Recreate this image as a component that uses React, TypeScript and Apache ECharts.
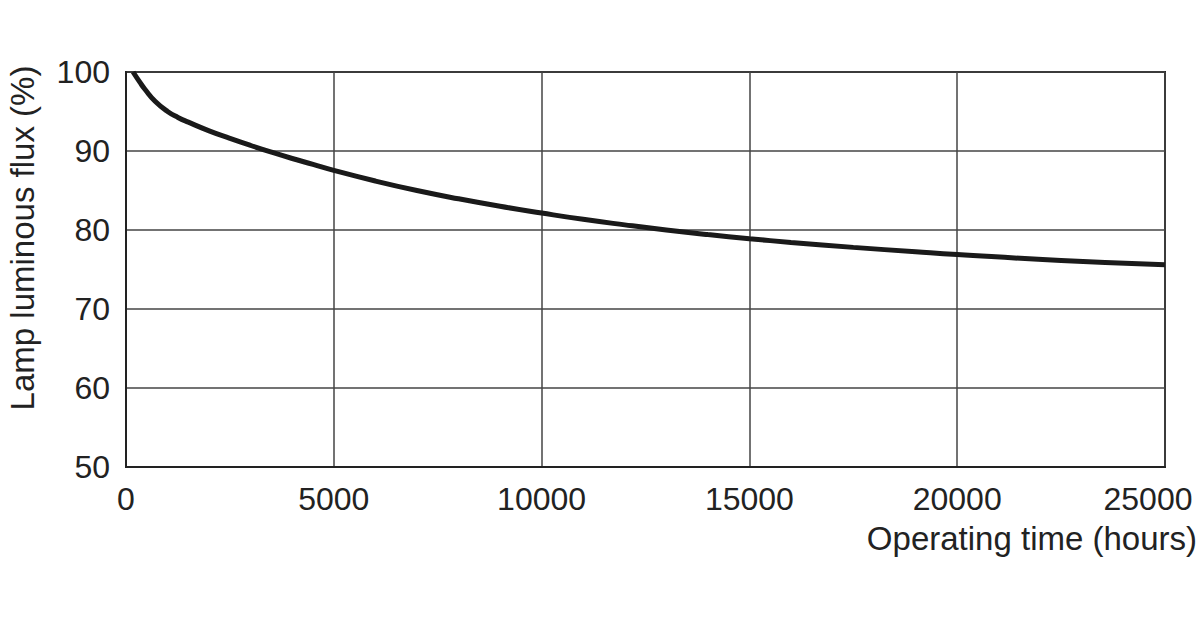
import React, { useEffect, useRef } from "react";
import * as echarts from "echarts";

const hours = [170, 340, 450, 700, 1000, 1250, 1500, 2000, 2500, 3000, 3500, 4000, 4500, 5000, 6000, 7000, 8000, 9000, 10000, 11000, 12000, 13000, 14000, 15000, 16000, 17500, 19000, 20000, 22500, 25000];
const flux = [100, 98.65, 97.85, 96.3, 95.0, 94.25, 93.65, 92.55, 91.6, 90.7, 89.85, 89.05, 88.3, 87.55, 86.2, 85.0, 83.95, 83.0, 82.15, 81.35, 80.65, 80.0, 79.42, 78.9, 78.43, 77.8, 77.25, 76.9, 76.15, 75.6];
const xTicks = [0, 5000, 10000, 15000, 20000, 25000];
const yTicks = [50, 60, 70, 80, 90, 100];
const xTitle = "Operating time (hours)";
const yTitle = "Lamp luminous flux (%)";

const FONT = "'Liberation Sans', Arial, sans-serif";

export default function App() {
  const ref = useRef<HTMLDivElement>(null);
  useEffect(() => {
    const chart = echarts.init(ref.current!, null, { renderer: "svg" });
    chart.setOption({
      animation: false,
      backgroundColor: "#ffffff",
      grid: {
        left: 126,
        right: 35,
        top: 72,
        bottom: 163,
        show: true,
        borderColor: "#222",
        borderWidth: 2,
      },
      xAxis: {
        type: "value",
        min: xTicks[0],
        max: xTicks[xTicks.length - 1],
        interval: 5000,
        axisLine: { show: true, lineStyle: { color: "#222", width: 2 } },
        axisTick: { show: false },
        splitLine: { show: true, lineStyle: { color: "#444", width: 1.5 } },
        axisLabel: {
          margin: 16,
          color: "#222",
          fontFamily: FONT,
          fontSize: 32,
          formatter: (v: number) => (v === xTicks[xTicks.length - 1] ? `{last|${v}}` : `{n|${v}}`),
          rich: {
            n: { fontFamily: FONT, fontSize: 32, color: "#222" },
            last: { fontFamily: FONT, fontSize: 32, color: "#222", padding: [0, 34, 0, 0] },
          },
        },
      },
      yAxis: {
        type: "value",
        min: yTicks[0],
        max: yTicks[yTicks.length - 1],
        interval: 10,
        axisLine: { show: true, lineStyle: { color: "#222", width: 2 } },
        axisTick: { show: false },
        splitLine: { show: true, lineStyle: { color: "#444", width: 1.5 } },
        axisLabel: {
          margin: 16,
          color: "#222",
          fontFamily: FONT,
          fontSize: 32,
        },
      },
      graphic: [
        {
          type: "text",
          right: 3,
          top: 522,
          style: { text: xTitle, fontFamily: FONT, fontSize: 33, fill: "#222" },
        },
        {
          type: "text",
          x: 22,
          y: 238,
          rotation: Math.PI / 2,
          style: {
            text: yTitle,
            fontFamily: FONT,
            fontSize: 33,
            fill: "#222",
            align: "center",
            verticalAlign: "middle",
          },
        },
      ],
      series: [
        {
          type: "line",
          data: hours.map((h, i) => [h, flux[i]]),
          smooth: 0.5,
          showSymbol: false,
          lineStyle: { color: "#1a1a1a", width: 5 },
        },
      ],
    });
    return () => chart.dispose();
  }, []);
  return <div ref={ref} style={{ width: 1200, height: 630, position: "absolute", left: 0, top: 0 }} />;
}
